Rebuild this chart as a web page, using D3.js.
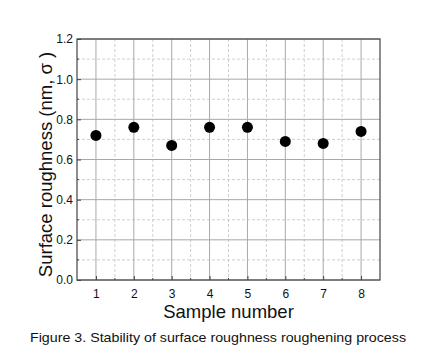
<!DOCTYPE html>
<html><head><meta charset="utf-8">
<script src="https://cdn.jsdelivr.net/npm/d3@7"></script>
<style>body{margin:0;background:#fff}svg{display:block}</style>
</head><body>
<script>
const samples = [1,2,3,4,5,6,7,8];
const roughness = [0.72,0.76,0.67,0.76,0.76,0.69,0.68,0.74];
const yTicks = [0.0,0.2,0.4,0.6,0.8,1.0,1.2];
const yMinor = [0.1,0.3,0.5,0.7,0.9,1.1];
const xMinor = [1.5,2.5,3.5,4.5,5.5,6.5,7.5];
const xLabel = "Sample number";
const yLabel = "Surface roughness (nm, σ )";
const caption = "Figure 3. Stability of surface roughness roughening process";

const W=442,H=354;
const L=77,R=380,T=39,B=280;
const svg=d3.select("body").append("svg").attr("width",W).attr("height",H);
const x=d3.scaleLinear().domain([0.5,8.5]).range([L,R]);
const y=d3.scaleLinear().domain([0,1.2]).range([B,T]);
const g=svg.append("g");
// minor dashed grid
g.selectAll(".vx").data(xMinor).join("line").attr("x1",d=>x(d)).attr("x2",d=>x(d)).attr("y1",T).attr("y2",B)
 .attr("stroke","#cfcfcf").attr("stroke-width",1).attr("stroke-dasharray","3,2");
g.selectAll(".hy").data(yMinor).join("line").attr("y1",d=>y(d)).attr("y2",d=>y(d)).attr("x1",L).attr("x2",R)
 .attr("stroke","#cfcfcf").attr("stroke-width",1).attr("stroke-dasharray","3,2");
// major grid
g.selectAll(".mx").data(samples).join("line").attr("x1",d=>x(d)).attr("x2",d=>x(d)).attr("y1",T).attr("y2",B)
 .attr("stroke","#a8a8a8").attr("stroke-width",1);
g.selectAll(".my").data(yTicks).join("line").attr("y1",d=>y(d)).attr("y2",d=>y(d)).attr("x1",L).attr("x2",R)
 .attr("stroke","#a8a8a8").attr("stroke-width",1);
// axes
const xa=svg.append("g").attr("transform",`translate(0,${B})`)
 .call(d3.axisBottom(x).tickValues(samples).tickSize(-4).tickPadding(9).tickFormat(d3.format("d")));
const ya=svg.append("g").attr("transform",`translate(${L},0)`)
 .call(d3.axisLeft(y).tickValues(yTicks).tickSize(-4).tickPadding(4).tickFormat(d3.format(".1f")));
[xa,ya].forEach(a=>{a.select(".domain").remove();a.selectAll("line").attr("stroke","#444");
 a.selectAll("text").attr("font-family","Liberation Sans, Arial, sans-serif").attr("font-size",12).attr("fill","#111");});
svg.append("g").selectAll("line").data(xMinor).join("line").attr("x1",d=>x(d)).attr("x2",d=>x(d)).attr("y1",B).attr("y2",B-2).attr("stroke","#444");
svg.append("g").selectAll("line").data(yMinor).join("line").attr("y1",d=>y(d)).attr("y2",d=>y(d)).attr("x1",L).attr("x2",L+2).attr("stroke","#444");
svg.append("rect").attr("x",L).attr("y",T).attr("width",R-L).attr("height",B-T).attr("fill","none").attr("stroke","#444").attr("stroke-width",1.2);
// points
svg.append("g").selectAll("circle").data(samples).join("circle")
 .attr("cx",d=>x(d)).attr("cy",(d,i)=>y(roughness[i])).attr("r",5.5).attr("fill","#000");
// labels
svg.append("text").attr("x",(L+R)/2).attr("y",318).attr("text-anchor","middle")
 .attr("font-family","Liberation Sans, Arial, sans-serif").attr("font-size",18.5).attr("fill","#111").text(xLabel);
svg.append("text").attr("transform",`translate(52,${(T+B)/2+5}) rotate(-90)`).attr("text-anchor","middle")
 .attr("font-family","Liberation Sans, Arial, sans-serif").attr("font-size",18.5).attr("fill","#111").text(yLabel);
svg.append("text").attr("x",218).attr("y",342).attr("text-anchor","middle").attr("textLength",376).attr("lengthAdjust","spacingAndGlyphs")
 .attr("font-family","Liberation Sans, Arial, sans-serif").attr("font-size",13.5).attr("fill","#111").text(caption);
</script>
</body></html>
